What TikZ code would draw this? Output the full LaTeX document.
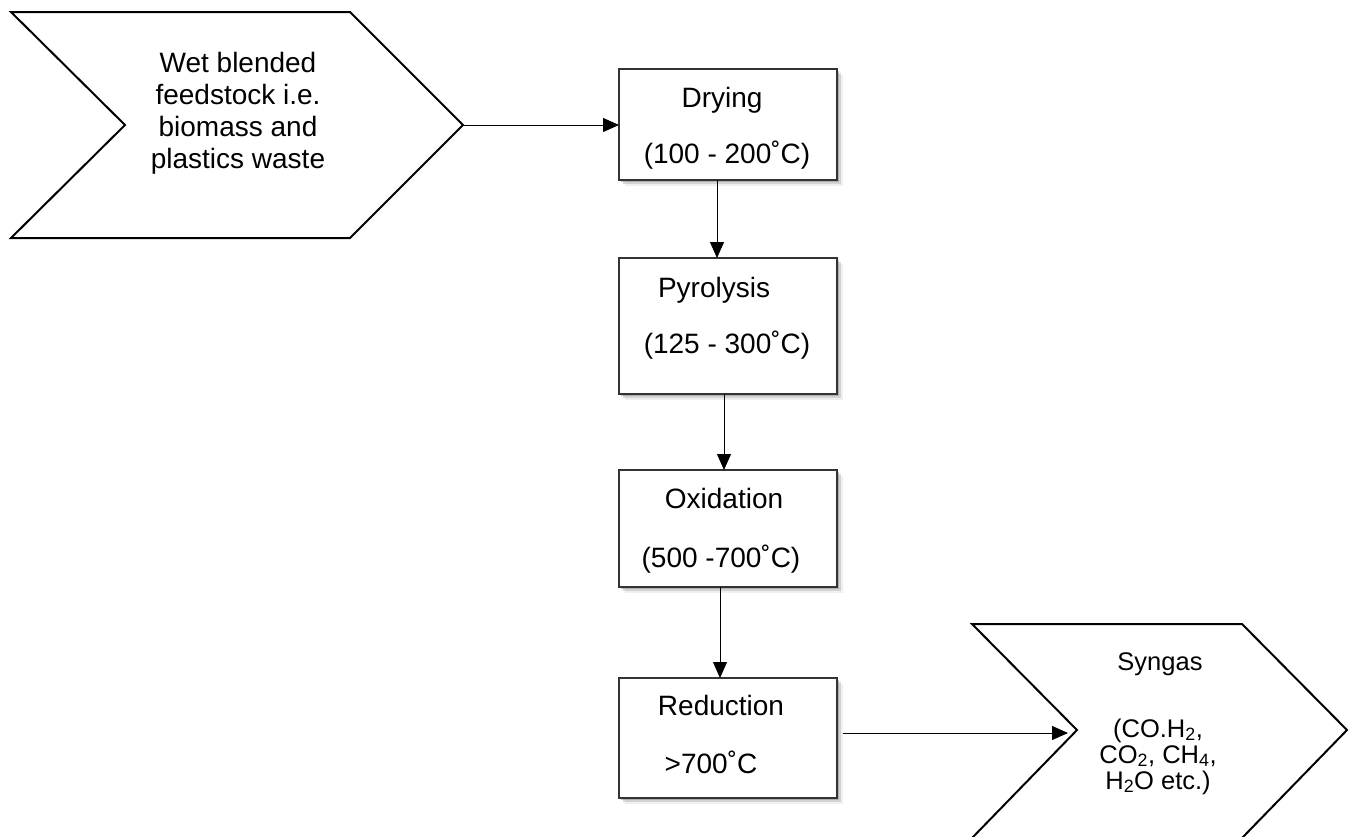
\documentclass[tikz,border=0pt]{standalone}
\usepackage{fontspec}
\setmainfont{Liberation Sans}
\usetikzlibrary{arrows.meta,shadows}
\begin{document}
\begin{tikzpicture}[x=1pt,y=-1pt,
  box/.style={draw=black!80, line width=1.3pt, fill=white, minimum width=218pt,
    inner sep=0pt, outer sep=0pt,
    drop shadow={shadow xshift=6pt, shadow yshift=-6pt, fill=black!12},
    drop shadow={shadow xshift=4pt, shadow yshift=-4pt, fill=black!28},
    drop shadow={shadow xshift=2pt, shadow yshift=-2pt, fill=black!45}},
  chev/.style={draw=black, line width=2pt, line join=miter},
  lbl/.style={anchor=base, inner sep=0pt, font=\fontsize{28}{32}\selectfont},
  multi/.style={inner sep=0pt, align=center, font=\fontsize{28}{32}\selectfont},
  small/.style={inner sep=0pt, align=center, font=\fontsize{25.5}{26}\selectfont},
  conn/.style={line width=1pt, -{Triangle[length=16pt,width=14pt]}}]
\useasboundingbox (0,0) rectangle (1362,836);
% left chevron
\draw[chev] (11,12) -- (350,12) -- (463,125) -- (350,238) -- (11,238) -- (125,125) -- cycle;
\coordinate (feedtip) at (463,125);
\node[multi] (feed) at (238,113) {Wet blended\\feedstock i.e.\\biomass and\\plastics waste};
% boxes
\node[box, minimum height=111pt] (dry) at (728,124.5) {};
\node[lbl] (dryA) at (722,107) {Drying};
\node[lbl] (dryB) at (727,163) {(100 - 200˚C)};
\node[box, minimum height=136pt] (pyr) at (728,326) {};
\node[lbl] (pyrA) at (714,297) {Pyrolysis};
\node[lbl] (pyrB) at (727,353) {(125 - 300˚C)};
\node[box, minimum height=117pt] (oxi) at (728,528.5) {};
\node[lbl] (oxiA) at (724,508) {Oxidation};
\node[lbl] (oxiB) at (721,567) {(500 -700˚C)};
\node[box, minimum height=120pt] (red) at (728,738) {};
\node[lbl] (redA) at (721,715) {Reduction};
\node[lbl] (redB) at (711,773) {>700˚C};
% syngas chevron
\draw[chev] (972,624) -- (1242,624) -- (1347,730) -- (1242,838) -- (972,838) -- (1077,730) -- cycle;
\coordinate (synin) at (1068,733);
\node[small, anchor=base] (synA) at (1160,670) {Syngas};
\node[small, anchor=base] (synB) at (1158,789) {(CO.H\textsubscript{2},\\CO\textsubscript{2}, CH\textsubscript{4},\\H\textsubscript{2}O etc.)};
% connectors
\draw[conn] (feedtip) -- (dry.west |- feedtip);
\draw[conn] (dry.south -| 717,0) -- (pyr.north -| 717,0);
\draw[conn] (pyr.south -| 724,0) -- (oxi.north -| 724,0);
\draw[conn] (oxi.south -| 720,0) -- (red.north -| 720,0);
\draw[conn] ([xshift=6pt]red.east |- synin) -- (synin);
\end{tikzpicture}
\end{document}
